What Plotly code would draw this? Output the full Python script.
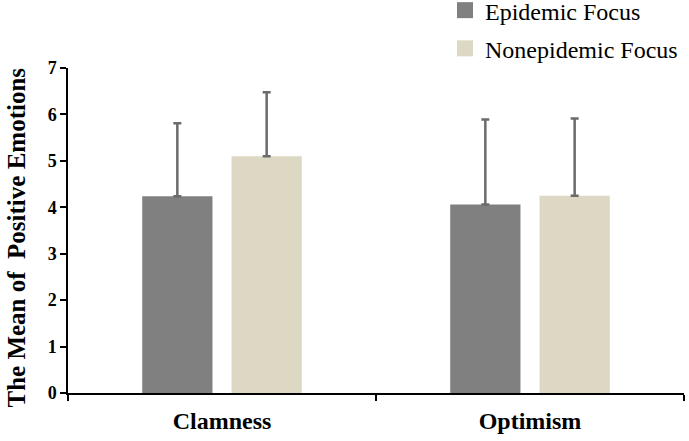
import plotly.graph_objects as go

categories = ["Clamness", "Optimism"]
epidemic = [4.24, 4.06]
epidemic_err = [1.57, 1.83]
nonepidemic = [5.10, 4.25]
nonepidemic_err = [1.38, 1.66]
series_names = ["Epidemic Focus", "Nonepidemic Focus"]
colors = ["#808080", "#ddd8c3"]
y_ticks = [0, 1, 2, 3, 4, 5, 6, 7]
y_title = "The Mean of  Positive Emotions"

serif = "Liberation Serif, Times New Roman, serif"
err_color = "#6b6b6b"

fig = go.Figure()
for name, vals, errs, col, grp in [
    (series_names[0], epidemic, epidemic_err, colors[0], "a"),
    (series_names[1], nonepidemic, nonepidemic_err, colors[1], "b"),
]:
    fig.add_trace(go.Bar(
        x=categories, y=vals, name=name,
        marker=dict(color=col, line=dict(width=0)),
        error_y=dict(type="data", array=errs, arrayminus=[0] * len(errs), symmetric=False,
                     color=err_color, thickness=2.5, width=4),
        legendgroup=grp, showlegend=False,
    ))
    # legend-only entry with a larger square symbol
    fig.add_trace(go.Scatter(
        x=[None], y=[None], mode="markers", name=name,
        marker=dict(symbol="square", size=16, color=col),
        legendgroup=grp, showlegend=True, hoverinfo="skip",
    ))

fig.add_annotation(
    text=y_title, textangle=-90, showarrow=False,
    xref="paper", yref="paper",
    x=(16 - 68) / 616, y=(393 - 237.5) / 325,
    xanchor="center", yanchor="middle",
    font=dict(size=25, family=serif, color="black", weight="bold"),
)

fig.update_layout(
    width=689, height=441,
    margin=dict(l=68, r=5, t=68, b=48, autoexpand=False),
    paper_bgcolor="white", plot_bgcolor="white",
    barmode="group", bargap=0.42, bargroupgap=0.2135,
    font=dict(family=serif, color="black"),
    showlegend=True,
    legend=dict(
        x=(445 - 68) / 616, xanchor="left", y=1.246, yanchor="top",
        orientation="v", font=dict(size=24, family=serif, color="black"),
        tracegroupgap=4, itemwidth=30, bgcolor="rgba(0,0,0,0)",
    ),
    xaxis=dict(
        showline=True, linecolor="black", linewidth=1.5,
        ticks="outside", tickson="boundaries", ticklen=6, tickcolor="black", tickwidth=1.5,
        tickfont=dict(size=24, family=serif, color="black", weight="bold"),
        ticklabelstandoff=5,
        showgrid=False, zeroline=False, automargin=False,
    ),
    yaxis=dict(
        range=[0, 7], tickvals=y_ticks,
        showline=True, linecolor="black", linewidth=1.5,
        ticks="outside", ticklen=6, tickcolor="black", tickwidth=1.5,
        tickfont=dict(size=18, family=serif, color="black", weight="bold"),
        showgrid=False, zeroline=False, automargin=False,
    ),
)

fig.write_html(
    "out.html",
    config={"displayModeBar": False},
    post_script="document.body.style.margin='0';document.body.style.overflow='hidden';",
)
